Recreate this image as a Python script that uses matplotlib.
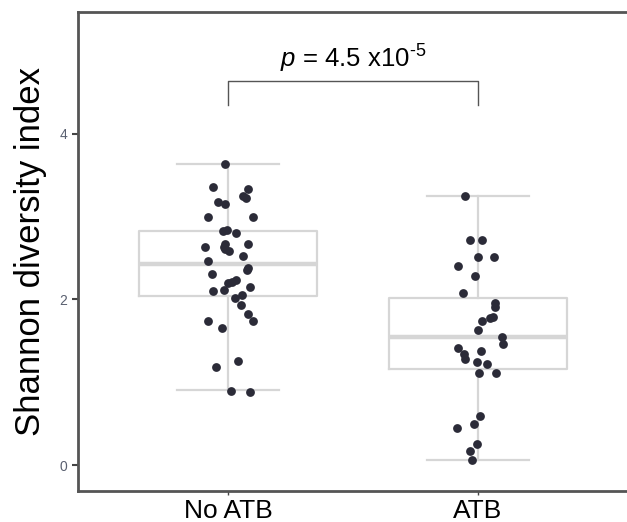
import matplotlib
matplotlib.use("Agg")
import matplotlib.pyplot as plt

plt.rcParams["font.family"] = ["Liberation Sans", "DejaVu Sans"]
plt.rcParams["mathtext.fontset"] = "custom"
plt.rcParams["mathtext.it"] = "Liberation Sans:italic"
plt.rcParams["mathtext.rm"] = "Liberation Sans"

groups = ["No ATB", "ATB"]

no_atb = [3.63, 3.36, 3.33, 3.25, 3.22, 3.17, 3.15, 2.99, 3.00, 2.82,
          2.84, 2.80, 2.63, 2.67, 2.67, 2.63, 2.61, 2.59, 2.53, 2.46,
          2.38, 2.35, 2.31, 2.24, 2.21, 2.20, 2.10, 2.11, 2.15, 2.05,
          2.02, 1.93, 1.82, 1.74, 1.74, 1.66, 1.26, 1.19, 0.90, 0.88]
no_atb_jit = [-0.01, -0.06, 0.08, 0.06, 0.07, -0.04, -0.01, -0.08, 0.10, -0.02,
              -0.005, 0.03, -0.09, -0.01, 0.08, -0.015, -0.01, 0.004, 0.06, -0.08,
              0.08, 0.076, -0.064, 0.03, 0.017, 0.001, -0.059, -0.016, 0.087, 0.056,
              0.029, 0.052, 0.08, 0.10, -0.081, -0.024, 0.041, -0.048, 0.013, 0.087]

atb = [3.25, 2.72, 2.72, 2.51, 2.51, 2.40, 2.28, 2.08, 1.96, 1.91,
       1.79, 1.78, 1.74, 1.63, 1.55, 1.46, 1.41, 1.38, 1.34, 1.28,
       1.24, 1.22, 1.11, 1.11, 0.60, 0.50, 0.45, 0.26, 0.17, 0.06]
atb_jit = [-0.052, -0.033, 0.015, -0.001, 0.064, -0.079, -0.011, -0.059, 0.067, 0.068,
           0.060, 0.048, 0.017, 0.0, 0.097, 0.101, -0.079, 0.013, -0.056, -0.053,
           -0.003, 0.035, 0.004, 0.073, 0.008, -0.016, -0.084, -0.003, -0.031, -0.024]

# box stats: whislo, q1, median, q3, whishi
box_stats = [
    (0.91, 2.04, 2.43, 2.82, 3.63),
    (0.06, 1.16, 1.55, 2.02, 3.25),
]

p_label = r"$p$ = 4.5 x10$^{\text{-5}}$"
bracket_y, bracket_drop = 4.63, 0.28

fig = plt.figure(figsize=(6.27, 5.22), dpi=100)
ax = fig.add_axes([0.1244, 0.0594, 0.8772, 0.918])

stats = [dict(whislo=s[0], q1=s[1], med=s[2], q3=s[3], whishi=s[4], fliers=[])
         for s in box_stats]
grey = "#d6d6d6"
ax.bxp(stats, positions=[0, 1], widths=0.71, capwidths=0.41, showfliers=False,
       boxprops=dict(color=grey, linewidth=1.6),
       whiskerprops=dict(color=grey, linewidth=1.6),
       capprops=dict(color=grey, linewidth=1.6),
       medianprops=dict(color=grey, linewidth=3.2))

for i, (vals, jit) in enumerate([(no_atb, no_atb_jit), (atb, atb_jit)]):
    ax.scatter([i + j for j in jit], vals, s=40, color="#2b2b38", zorder=3,
               linewidths=0)

ax.plot([0, 0, 1, 1],
        [bracket_y - bracket_drop, bracket_y, bracket_y, bracket_y - bracket_drop],
        color="#555555", linewidth=1)
ax.text(0.5, bracket_y + 0.08, p_label, ha="center", va="bottom", fontsize=18.5)

ax.set_xlim(-0.6, 1.6)
ax.set_ylim(-0.31, 5.47)
ax.set_xticks([0, 1])
ax.set_xticklabels(groups, fontsize=19, color="black")
ax.set_yticks([0, 2, 4])
ax.tick_params(axis="y", labelsize=10, labelcolor="#5a6070", length=4, width=1.5,
               color="#444444")
ax.tick_params(axis="x", length=3, width=1.0, color="#444444", pad=3)
ax.set_ylabel("Shannon diversity index", fontsize=25, labelpad=9)

for side in ["left", "bottom", "top"]:
    ax.spines[side].set_color("#555555")
    ax.spines[side].set_linewidth(2)
ax.spines["right"].set_visible(False)

fig.savefig("out.png", dpi=100)
